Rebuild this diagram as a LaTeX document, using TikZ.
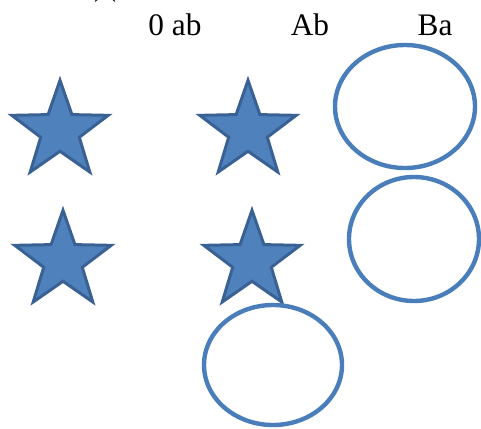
\documentclass[tikz,border=0pt]{standalone}
\usepackage{fontspec}
\setmainfont{Liberation Serif}
\usetikzlibrary{shapes.geometric}

\definecolor{starfill}{HTML}{4F81BD}
\definecolor{starline}{HTML}{3A6194}
\definecolor{ringline}{HTML}{4A7EBB}

\begin{document}
\begin{tikzpicture}[
  x=0.75pt, y=-0.75pt,
  lbl/.style={
    anchor=base,
    inner sep=0pt,
    font=\fontsize{23.5}{28}\selectfont
  },
  starshape/.style={
    star,
    star points=5,
    star point ratio=2.5,
    minimum size=76pt,
    inner sep=0pt,
    fill=starfill,
    draw=starline,
    line width=2.25pt
  },
  ringshape/.style={
    ellipse,
    inner sep=0pt,
    draw=ringline,
    line width=3.3pt
  }
]
\clip (0,0) rectangle (481,428);
\useasboundingbox (0,0) rectangle (481,428);

% --- cut-off symbol at the top ---
\node[star, star points=5, star point ratio=2.618, minimum size=22.5pt,
  inner sep=0pt, draw=black, line width=1pt] (topmark) at (105,-12) {};

% --- column labels ---
\node[lbl] (lab0) at (175,36) {0 ab};
\node[lbl] (labA) at (310,36) {Ab};
\node[lbl] (labB) at (435,36) {Ba};

% --- stars ---
\node[starshape] (star1) at (60,131) {};
\node[starshape] (star2) at (248,131) {};
\node[starshape] (star3) at (63,261) {};
\node[starshape] (star4) at (252,261) {};

% --- rings ---
\node[ringshape, minimum width=105pt, minimum height=92.25pt] (ring1) at (405,106.5) {};
\node[ringshape, minimum width=97.5pt, minimum height=93pt] (ring2) at (414,239) {};
\node[ringshape, minimum width=103.5pt, minimum height=90pt] (ring3) at (273,365) {};

\end{tikzpicture}
\end{document}
